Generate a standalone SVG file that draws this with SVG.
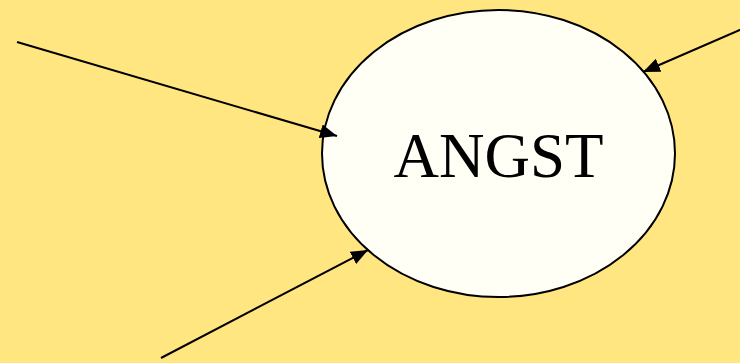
<svg xmlns="http://www.w3.org/2000/svg" width="740" height="363" viewBox="0 0 740 363">
<style>
.edge{stroke:#000;stroke-width:2;fill:none;marker-end:url(#ah)}
.node{fill:#FFFFF5;stroke:#000;stroke-width:2}
.label{font-family:"Liberation Serif","Times New Roman",serif;font-size:64px;fill:#000}
</style>
<defs>
<marker id="ah" markerUnits="userSpaceOnUse" markerWidth="18" markerHeight="14" refX="17" refY="7" orient="auto">
<path d="M0,0 L17,7 L0,14 Z" fill="#000"/>
</marker>
</defs>
<rect width="740" height="363" fill="#FFE680"/>
<g id="angst">
<ellipse class="node" cx="498.5" cy="153.5" rx="176.5" ry="143.5"/>
<text class="label" x="498.5" y="177" text-anchor="middle" textLength="210" lengthAdjust="spacingAndGlyphs">ANGST</text>
</g>
<g id="connectors">
<line class="edge" x1="17" y1="42" x2="337" y2="136"/>
<line class="edge" x1="742" y1="29" x2="643" y2="72"/>
<line class="edge" x1="161" y1="358" x2="368" y2="250"/>
</g>
</svg>
